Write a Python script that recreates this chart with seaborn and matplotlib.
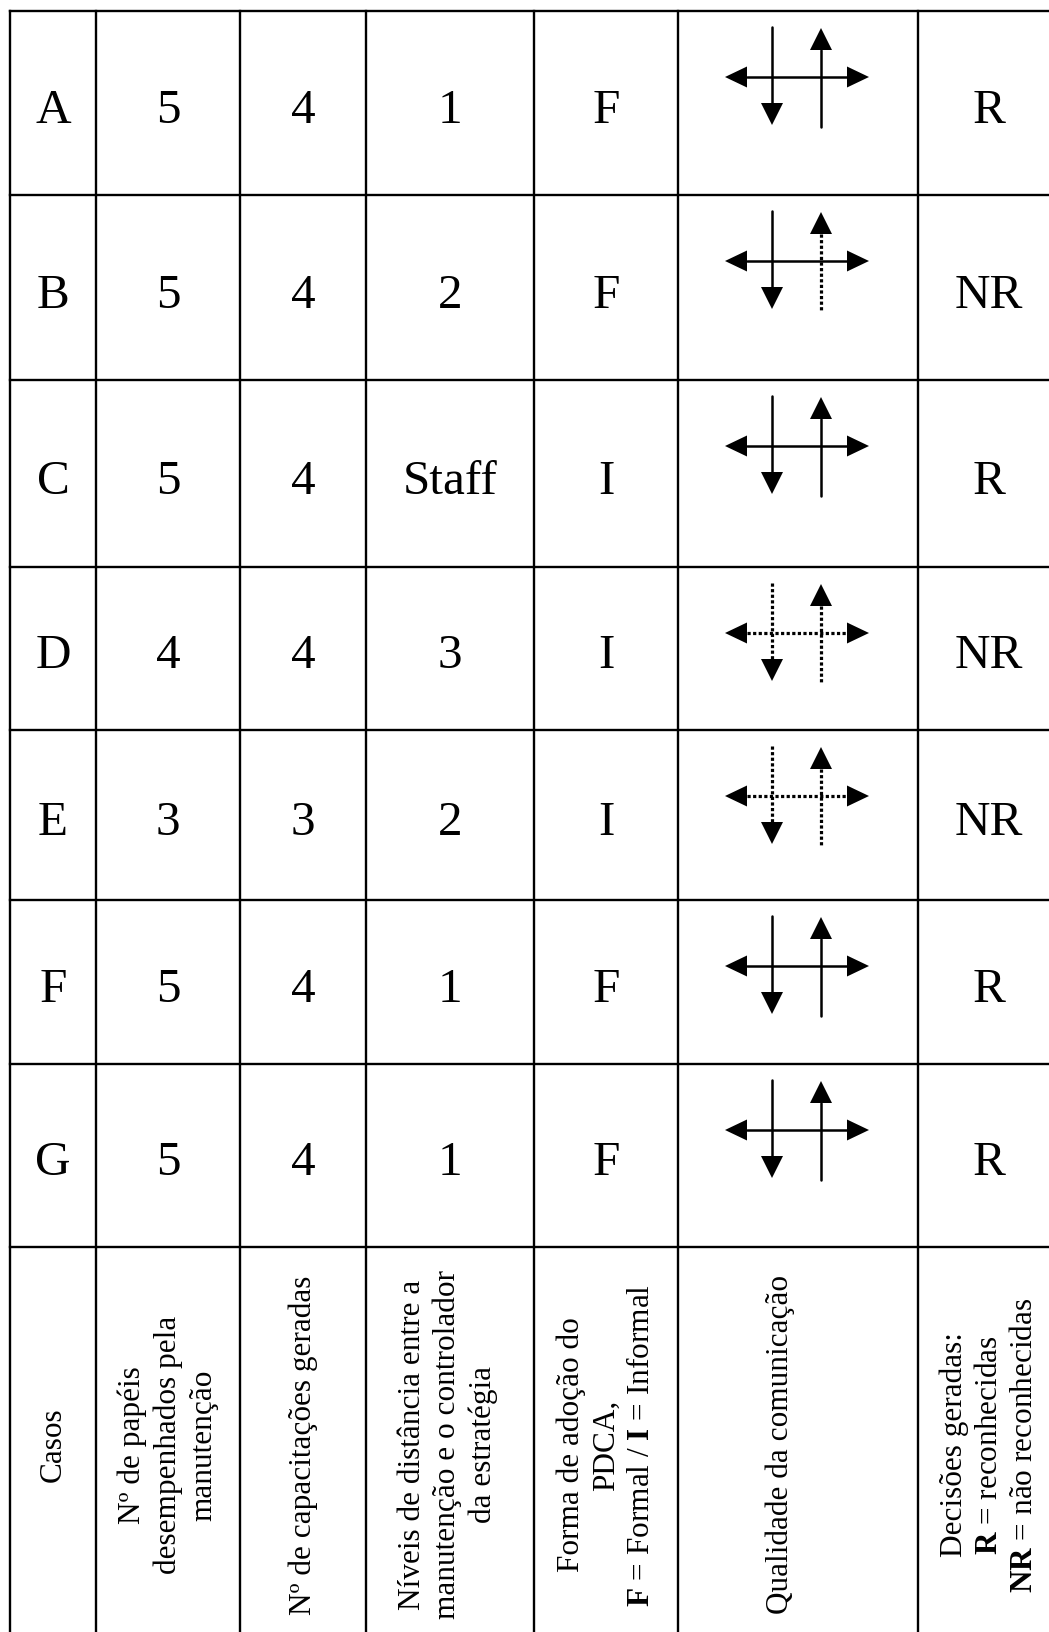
import matplotlib
matplotlib.use("Agg")
import matplotlib.pyplot as plt
import seaborn as sns

# ---------------- data ----------------
casos = ["A", "B", "C", "D", "E", "F", "G"]
papeis = [5, 5, 5, 4, 3, 5, 5]
capacitacoes = [4, 4, 4, 4, 3, 4, 4]
niveis = ["1", "2", "Staff", "3", "2", "1", "1"]
forma_pdca = ["F", "F", "I", "I", "I", "F", "F"]
# line style of the communication glyph: horizontal / left (down) / right (up)
com_horizontal = ["solid", "solid", "solid", "dotted", "dotted", "solid", "solid"]
com_descendente = ["solid", "solid", "solid", "dotted", "dotted", "solid", "solid"]
com_ascendente = ["solid", "dotted", "solid", "dotted", "dotted", "solid", "solid"]
decisoes = ["R", "NR", "R", "NR", "NR", "R", "R"]

cabecalhos = [
    "Casos",
    "Nº de papéis\ndesempenhados pela\nmanutenção",
    "Nº de capacitações geradas",
    "Níveis de distância entre a\nmanutenção e o controlador\nda estratégia",
    "Forma de adoção do\nPDCA,\n$\\mathbf{F}$ = Formal / $\\mathbf{I}$ = Informal",
    "Qualidade da comunicação",
    "Decisões geradas:\n$\\mathbf{R}$ = reconhecidas\n$\\mathbf{NR}$ = não reconhecidas",
]

# ---------------- layout (pixels) ----------------
W, H = 1049, 1633
col_edges = [10, 96, 240, 366, 534, 678, 918, 1060]
row_edges = [12, 196, 381, 568, 731, 901, 1065, 1248, 1642]
header_x = [53, 168, 303, 448, 606, 780, 989]

sns.set_theme(style="white")
plt.rcParams["font.family"] = ["Liberation Serif", "DejaVu Serif"]
plt.rcParams["mathtext.fontset"] = "custom"
plt.rcParams["mathtext.rm"] = "Liberation Serif"
plt.rcParams["mathtext.bf"] = "Liberation Serif:bold"

fig = plt.figure(figsize=(W / 100, H / 100), dpi=100)
ax = fig.add_axes([0, 0, 1, 1])
ax.set_xlim(0, W)
ax.set_ylim(H, 0)
ax.axis("off")

LW = 1.7
for y in row_edges:
    ax.plot([col_edges[0], col_edges[-1]], [y, y], color="black", lw=LW,
            solid_capstyle="projecting")
for x in col_edges:
    ax.plot([x, x], [row_edges[0], row_edges[-1]], color="black", lw=LW,
            solid_capstyle="projecting")

FS = 35.5
cols_text = [casos, [str(v) for v in papeis], [str(v) for v in capacitacoes],
             niveis, forma_pdca]
for i in range(len(casos)):
    top, bot = row_edges[i], row_edges[i + 1]
    base = (top + bot) / 2 + 19
    for j, col in enumerate(cols_text):
        cx = (col_edges[j] + col_edges[j + 1]) / 2
        ax.text(cx, base, col[i], ha="center", va="baseline", fontsize=FS,
                color="black")
    cx = (col_edges[6] + col_edges[7]) / 2
    ax.text(cx, base, decisoes[i], ha="center", va="baseline", fontsize=FS,
            color="black")

# communication glyph
def ls(style):
    return "-" if style == "solid" else (0, (1.0, 0.75))

def lw_of(style):
    return 1.8 if style == "solid" else 2.3

HL, HW = 22, 10.5
for i in range(len(casos)):
    top = row_edges[i]
    cx = (col_edges[5] + col_edges[6]) / 2 - 1
    yh = top + 66
    xl, xr = cx - 72, cx + 72
    ax.plot([xl + HL, xr - HL], [yh, yh], color="black",
            lw=lw_of(com_horizontal[i]),
            linestyle=ls(com_horizontal[i]), dash_capstyle="butt")
    ax.fill([xl, xl + HL, xl + HL], [yh, yh - HW, yh + HW], color="black", lw=0)
    ax.fill([xr, xr - HL, xr - HL], [yh, yh - HW, yh + HW], color="black", lw=0)
    # left: downward arrow
    xd = cx - 25
    y0, y1 = top + 16, top + 114
    ax.plot([xd, xd], [y0, y1 - HL], color="black",
            lw=lw_of(com_descendente[i]),
            linestyle=ls(com_descendente[i]), dash_capstyle="butt")
    ax.fill([xd, xd - 11, xd + 11], [y1, y1 - HL, y1 - HL], color="black", lw=0)
    # right: upward arrow
    xu = cx + 24
    y0, y1 = top + 17, top + 116
    ax.plot([xu, xu], [y0 + HL, y1], color="black",
            lw=lw_of(com_ascendente[i]),
            linestyle=ls(com_ascendente[i]), dash_capstyle="butt")
    ax.fill([xu, xu - 11, xu + 11], [y0, y0 + HL, y0 + HL], color="black", lw=0)

# header row (rotated)
yc = (row_edges[7] + row_edges[8]) / 2
for x, txt in zip(header_x, cabecalhos):
    ax.text(x, yc, txt, rotation=90, ha="center", va="center",
            multialignment="center", fontsize=22.5, linespacing=1.28,
            color="black")

fig.savefig("out.png", dpi=100, facecolor="white")
